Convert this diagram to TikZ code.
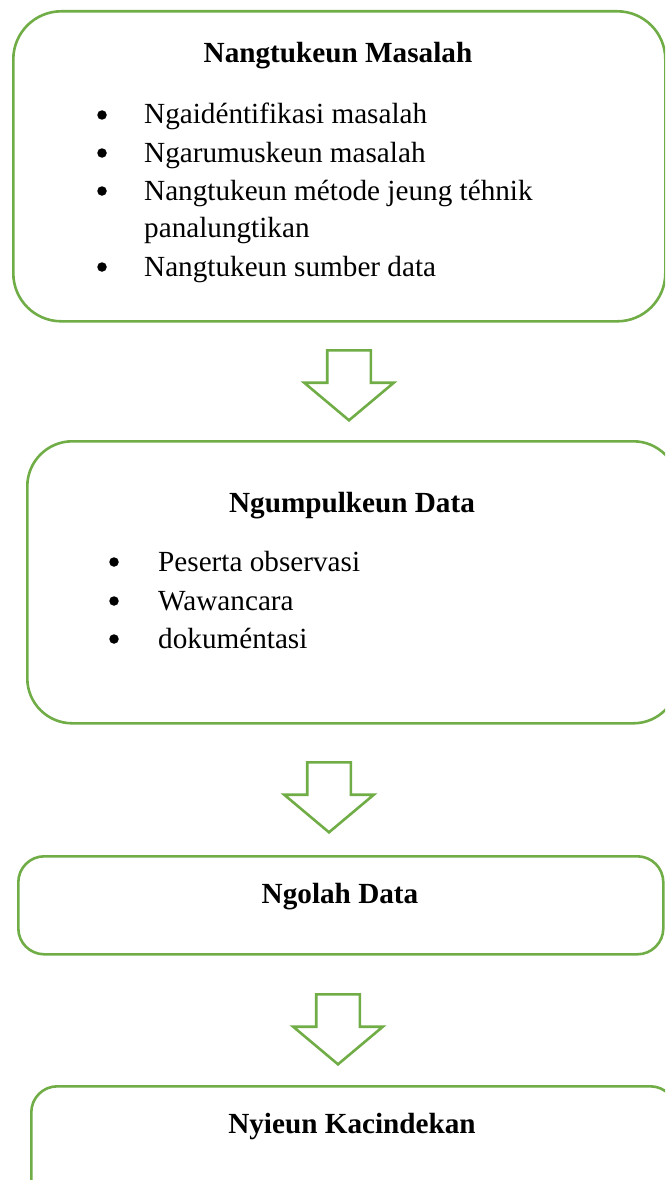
\documentclass[tikz,border=0pt]{standalone}
\usepackage{fontspec}
\setmainfont{Liberation Serif}
\usetikzlibrary{shapes.arrows}
\definecolor{leafgreen}{HTML}{70AD47}
\begin{document}
\begin{tikzpicture}[x=1pt, y=-1pt,
    every node/.style={font=\fontsize{29.2}{35}\selectfont, inner sep=0pt},
    stagebox/.style={draw=leafgreen, line width=2.6pt, anchor=north west},
    downarrow/.style={draw=leafgreen, line width=2.6pt, single arrow, shape border rotate=270, anchor=tail,
        inner xsep=20.5pt, inner ysep=0pt, minimum height=70pt, single arrow head extend=23pt, single arrow tip angle=100},
    heading/.style={anchor=base, font=\fontsize{29.2}{35}\selectfont\bfseries},
    bulletmark/.style={circle, fill=black, minimum size=9.5pt},
    listitem/.style={anchor=base west}]
    \clip (0,0) rectangle (665,1180) ;

    \node[stagebox, rounded corners=48pt, minimum width=652pt, minimum height=310pt] (masalah) at (12,10) {} ;
    \node[heading] (masalahtitle) at (338,63) {Nangtukeun Masalah} ;
    \node[bulletmark] (m1) at (102,115) {} ;
    \node[listitem] (mt1) at (144,124) {Ngaidéntifikasi masalah} ;
    \node[bulletmark] (m2) at (102,153) {} ;
    \node[listitem] (mt2) at (144,162) {Ngarumuskeun masalah} ;
    \node[bulletmark] (m3) at (102,191) {} ;
    \node[listitem] (mt3) at (144,200) {Nangtukeun métode jeung téhnik} ;
    \node[listitem] (mt3b) at (144,237) {panalungtikan} ;
    \node[bulletmark] (m4) at (102,267) {} ;
    \node[listitem] (mt4) at (144,276) {Nangtukeun sumber data} ;

    \node[downarrow] (arr1) at (349,349) {} ;

    \node[stagebox, rounded corners=45pt, minimum width=651pt, minimum height=282pt] (data) at (26,440) {} ;
    \node[heading] (datatitle) at (352,512) {Ngumpulkeun Data} ;
    \node[bulletmark] (d1) at (114,562) {} ;
    \node[listitem] (dt1) at (158,571) {Peserta observasi} ;
    \node[bulletmark] (d2) at (114,601) {} ;
    \node[listitem] (dt2) at (158,610) {Wawancara} ;
    \node[bulletmark] (d3) at (114,639) {} ;
    \node[listitem] (dt3) at (158,648) {dokuméntasi} ;

    \node[downarrow] (arr2) at (329,761) {} ;

    \node[stagebox, rounded corners=26pt, minimum width=645pt, minimum height=98pt] (olah) at (17,855) {} ;
    \node[heading] (olahtitle) at (340,903) {Ngolah Data} ;

    \node[downarrow] (arr3) at (338,993) {} ;

    \node[stagebox, rounded corners=26pt, minimum width=645pt, minimum height=140pt] (kacindekan) at (30,1085) {} ;
    \node[heading] (kacindekantitle) at (352,1133) {Nyieun Kacindekan} ;
\end{tikzpicture}
\end{document}
